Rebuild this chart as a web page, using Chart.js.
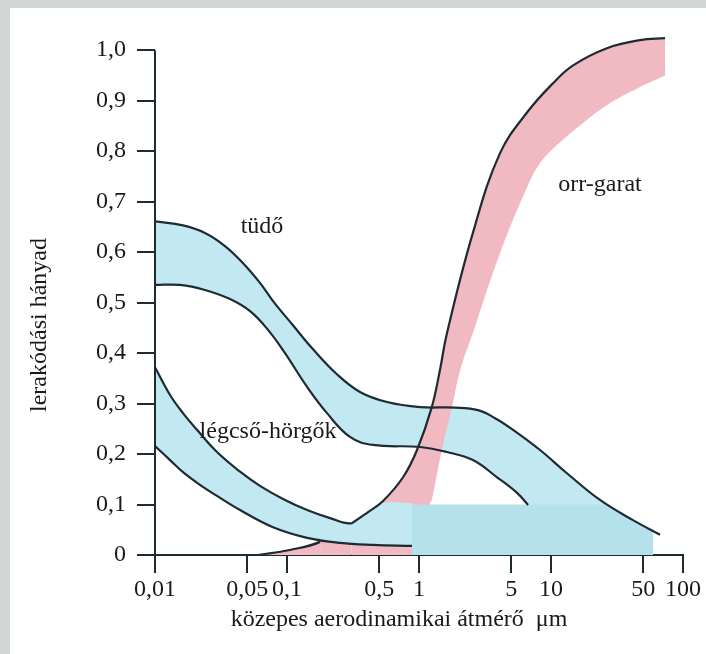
<!DOCTYPE html>
<html>
<head>
<meta charset="utf-8">
<script src="https://cdn.jsdelivr.net/npm/chart.js@4.4.1/dist/chart.umd.min.js"></script>
<style>
  body { margin: 0; background: #fff; }
  #wrap { width: 706px; height: 654px; position: relative; }
</style>
</head>
<body>
<div id="wrap"><canvas id="depChart"></canvas></div>
<script>
// axis ticks
const xTicks = [0.01, 0.05, 0.1, 0.5, 1, 5, 10, 50, 100];
const xTickLabels = ["0,01", "0,05", "0,1", "0,5", "1", "5", "10", "50", "100"];
const yTicks = [0, 0.1, 0.2, 0.3, 0.4, 0.5, 0.6, 0.7, 0.8, 0.9, 1.0];
const yTickLabels = ["0", "0,1", "0,2", "0,3", "0,4", "0,5", "0,6", "0,7", "0,8", "0,9", "1,0"];

// tüdő (lung) band
const tudoUpperX = [0.01, 0.0163, 0.0239, 0.0339, 0.0465, 0.0624, 0.0784, 0.111, 0.157, 0.239, 0.357, 0.573, 1.02, 1.87, 2.80, 3.77, 5.16, 8.26, 13.2, 23.5, 41.8, 67.0];
const tudoUpperY = [0.661, 0.653, 0.638, 0.612, 0.578, 0.539, 0.503, 0.455, 0.408, 0.358, 0.323, 0.303, 0.293, 0.292, 0.287, 0.271, 0.248, 0.208, 0.162, 0.109, 0.069, 0.040];
const tudoLowerX = [0.01, 0.0155, 0.0239, 0.0370, 0.0525, 0.0718, 0.0966, 0.142, 0.201, 0.300, 0.449, 1.02, 1.63, 2.56, 3.90, 5.53, 6.70, 13.7, 59.3];
const tudoLowerY = [0.535, 0.535, 0.525, 0.507, 0.483, 0.446, 0.400, 0.333, 0.281, 0.234, 0.218, 0.214, 0.204, 0.188, 0.154, 0.123, 0.099, 0, 0];

// légcső-hörgők (trachea-bronchi) band
const legcsoUpperX = [0.01, 0.013, 0.0163, 0.0208, 0.0295, 0.0441, 0.0624, 0.0933, 0.142, 0.212, 0.31, 0.411, 0.534, 0.885];
const legcsoUpperY = [0.372, 0.317, 0.281, 0.248, 0.204, 0.165, 0.137, 0.111, 0.089, 0.073, 0.063, 0.085, 0.103, 0.103];
const legcsoLowerX = [0.01, 0.013, 0.0163, 0.0219, 0.0295, 0.0441, 0.0784, 0.142, 0.252, 0.449, 0.885];
const legcsoLowerY = [0.216, 0.188, 0.164, 0.139, 0.117, 0.089, 0.055, 0.034, 0.024, 0.020, 0.018];

// orr-garat (nasopharynx) band
const orrUpperX = [0.060, 0.105, 0.178, 0.31, 0.411, 0.534, 0.757, 0.966, 1.25, 1.44, 1.63, 2.56, 4.11, 6.6, 10.4, 14.7, 26.5, 47.2, 73.1];
const orrUpperY = [0, 0.010, 0.026, 0.063, 0.085, 0.107, 0.154, 0.208, 0.293, 0.366, 0.440, 0.638, 0.796, 0.877, 0.935, 0.970, 1.004, 1.020, 1.024];
const orrLowerX = [0.060, 1.20, 1.21, 1.25, 1.49, 1.78, 2.05, 2.56, 4.11, 6.6, 8.26, 11.1, 16.6, 26.5, 47.2, 73.1];
const orrLowerY = [0, 0, 0.103, 0.109, 0.208, 0.293, 0.366, 0.440, 0.598, 0.729, 0.776, 0.812, 0.851, 0.891, 0.927, 0.950];

// shaded block under 0,1
const blockX = [0.885, 26, 41.8, 59.3];
const blockY = [0.1, 0.1, 0.069, 0.047];

const LINE = "#1e2b33";
const BLUE = "#c2e9f2";
const BLUE2 = "#b5e1ec";
const PINK = "#f1b9c1";
const NONE = "rgba(0,0,0,0)";
const FONT = "'Liberation Serif', 'Times New Roman', serif";

const pts = (xs, ys) => xs.map((x, i) => ({ x: x, y: ys[i] }));

function hideWhere(test) {
  return { borderColor: c => test(c.p0.parsed.x, c.p1.parsed.x) ? NONE : LINE };
}

const base = {
  pointRadius: 0,
  borderWidth: 2.2,
  borderColor: LINE,
  tension: 0.4,
  fill: false
};

const bgPlugin = {
  id: "bg",
  beforeDraw(chart) {
    const ctx = chart.ctx;
    ctx.save();
    ctx.fillStyle = "#d2d5d5";
    ctx.fillRect(0, 0, chart.width, chart.height);
    ctx.fillStyle = "#ffffff";
    ctx.fillRect(10, 8, chart.width - 10, chart.height - 8);
    ctx.restore();
  }
};

const textPlugin = {
  id: "texts",
  afterDraw(chart) {
    const ctx = chart.ctx;
    const xs = chart.scales.x;
    const ys = chart.scales.y;
    ctx.save();
    // y axis line, only up to 1,0
    ctx.strokeStyle = LINE;
    ctx.lineWidth = 2;
    ctx.beginPath();
    ctx.moveTo(xs.left, ys.getPixelForValue(0));
    ctx.lineTo(xs.left, ys.getPixelForValue(1));
    ctx.stroke();

    ctx.fillStyle = "#1a1a1a";
    ctx.font = "24px " + FONT;
    ctx.textAlign = "center";
    ctx.textBaseline = "middle";
    ctx.fillText("tüdő", xs.getPixelForValue(0.0647), ys.getPixelForValue(0.651));
    ctx.fillText("orr-garat", xs.getPixelForValue(23.5), ys.getPixelForValue(0.733));
    ctx.fillText("légcső-hörgők", xs.getPixelForValue(0.0718), ys.getPixelForValue(0.244));

    ctx.fillText("közepes aerodinamikai átmérő  μm", 399, 620);
    ctx.translate(40, 325);
    ctx.rotate(-Math.PI / 2);
    ctx.fillText("lerakódási hányad", 0, 0);
    ctx.restore();
  }
};

new Chart(document.getElementById("depChart"), {
  type: "line",
  data: {
    datasets: [
      { ...base, label: "block", data: pts(blockX, blockY), borderWidth: 0, borderColor: NONE,
        tension: 0, fill: "origin", backgroundColor: BLUE2 },
      { ...base, label: "légcső felső", data: pts(legcsoUpperX, legcsoUpperY),
        segment: hideWhere((a) => a >= 0.3), fill: "+1", backgroundColor: BLUE },
      { ...base, label: "légcső alsó", data: pts(legcsoLowerX, legcsoLowerY) },
      { ...base, label: "orr-garat", data: pts(orrUpperX, orrUpperY),
        segment: hideWhere((a, b) => a >= 0.17 && b <= 0.32), fill: "+1", backgroundColor: PINK },
      { ...base, label: "orr-garat alsó", data: pts(orrLowerX, orrLowerY), borderWidth: 0, borderColor: NONE },
      { ...base, label: "tüdő felső", data: pts(tudoUpperX, tudoUpperY), fill: "+1", backgroundColor: BLUE },
      { ...base, label: "tüdő alsó", data: pts(tudoLowerX, tudoLowerY),
        segment: hideWhere((a) => a >= 6.69) }
    ]
  },
  plugins: [bgPlugin, textPlugin],
  options: {
    responsive: true,
    maintainAspectRatio: false,
    animation: false,
    layout: { padding: { top: 30, right: 23, bottom: 0, left: 0 } },
    plugins: {
      legend: { display: false },
      tooltip: { enabled: false },
      filler: { drawTime: "beforeDatasetsDraw" }
    },
    scales: {
      x: {
        type: "logarithmic",
        min: 0.01,
        max: 100,
        afterBuildTicks: axis => { axis.ticks = xTicks.map(v => ({ value: v })); },
        afterFit: axis => { axis.height = 99; },
        ticks: {
          autoSkip: false,
          maxRotation: 0,
          padding: 2,
          color: "#1a1a1a",
          font: { family: FONT, size: 24 },
          callback: (v, i) => xTickLabels[i]
        },
        grid: { drawOnChartArea: false, drawTicks: true, tickLength: 18, color: LINE, lineWidth: 2 },
        border: { display: true, color: LINE, width: 2 }
      },
      y: {
        type: "linear",
        min: 0,
        max: 1.04,
        afterBuildTicks: axis => { axis.ticks = yTicks.map(v => ({ value: v })); },
        afterFit: axis => { axis.width = 155; },
        ticks: {
          padding: 11,
          color: "#1a1a1a",
          font: { family: FONT, size: 24 },
          callback: (v, i) => yTickLabels[i]
        },
        grid: { drawOnChartArea: false, drawTicks: true, tickLength: 18, color: LINE, lineWidth: 2 },
        border: { display: false }
      }
    }
  }
});
</script>
</body>
</html>
